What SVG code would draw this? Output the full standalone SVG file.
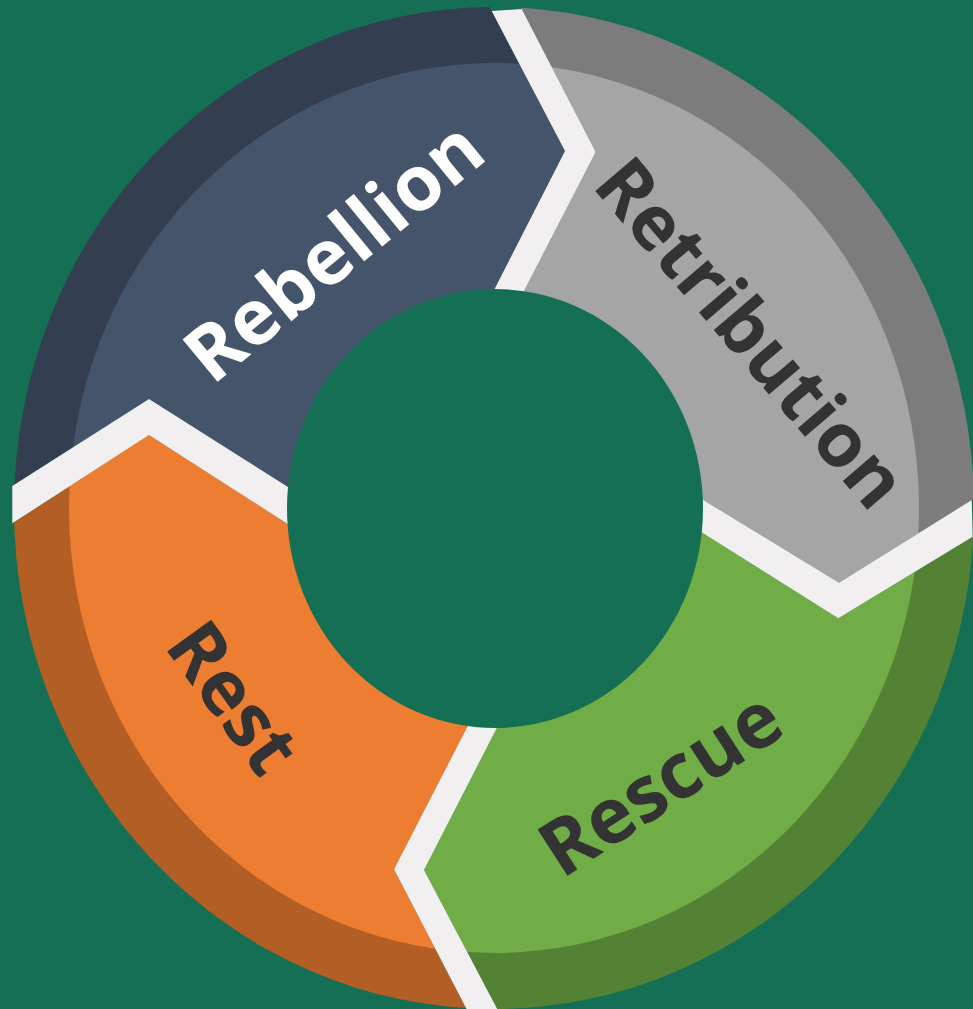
<svg xmlns="http://www.w3.org/2000/svg" xmlns:xlink="http://www.w3.org/1999/xlink" width="973" height="1009" viewBox="0 0 973 1009">
<style>
.lbl{font-family:"Open Sans","DejaVu Sans",sans-serif;font-weight:700;font-size:75px;text-anchor:middle}
.dark{fill:#333333}
.light{fill:#ffffff}
.sep{fill:#F1EFF0}
</style>
<defs>
<clipPath id="outerClip"><ellipse cx="494" cy="508" rx="480" ry="501"/></clipPath>
<clipPath id="lightClip"><ellipse cx="494" cy="508" rx="425" ry="445"/></clipPath>
<polygon id="pRebellion" points="465,-40 565,151 486.2,305.4 494,508 301,495.3 149,399 12.3,486 -40,519 -40,-40"/>
<polygon id="pRetribution" points="496.3,-40 595.7,152 516.1,306.3 494,508 690.5,492.2 839,582.7 971.7,500 1020,470 1020,-40"/>
<polygon id="pRescue" points="1020,508 972.7,536.7 838.3,618.3 690,525 494,508 503.5,715 424,870 496.7,1008 518.8,1050 1020,1050"/>
<polygon id="pRest" points="487.8,1050 466,1008 394,869.3 474.2,713.4 494,508 299.3,531.4 149,435 12.3,523.3 -40,557 -40,1050"/>
</defs>
<rect x="0" y="0" width="973" height="1009" fill="#156F54"/>
<g id="rebellion">
<use xlink:href="#pRebellion" href="#pRebellion" fill="#333F50" clip-path="url(#outerClip)"/>
<use xlink:href="#pRebellion" href="#pRebellion" fill="#44546A" clip-path="url(#lightClip)"/>
<text class="lbl light" style="font-size:77px" transform="translate(351,272) rotate(-39.5)">Rebellion</text>
</g>
<g id="retribution">
<use xlink:href="#pRetribution" href="#pRetribution" fill="#7C7C7C" clip-path="url(#outerClip)"/>
<use xlink:href="#pRetribution" href="#pRetribution" fill="#A5A5A5" clip-path="url(#lightClip)"/>
<text class="lbl dark" transform="translate(731,350) rotate(49.5)">Retribution</text>
</g>
<g id="rescue">
<use xlink:href="#pRescue" href="#pRescue" fill="#548235" clip-path="url(#outerClip)"/>
<use xlink:href="#pRescue" href="#pRescue" fill="#70AD47" clip-path="url(#lightClip)"/>
<text class="lbl dark" style="font-size:77px" transform="translate(675,806) rotate(-33)">Rescue</text>
</g>
<g id="rest">
<use xlink:href="#pRest" href="#pRest" fill="#B35E24" clip-path="url(#outerClip)"/>
<use xlink:href="#pRest" href="#pRest" fill="#ED7D31" clip-path="url(#lightClip)"/>
<text class="lbl dark" style="font-size:76px" transform="translate(212,713) rotate(54)">Rest</text>
</g>
<g id="connectors">
<polygon class="sep" points="491.7,11 565,151 486.2,305.4 516.1,306.3 595.7,152 521.7,9"/>
<polygon class="sep" points="971.7,500 839,582.7 690.5,492.2 690,525 838.3,618.3 972.7,536.7"/>
<polygon class="sep" points="498.8,1012 424,870 503.5,715 474.2,713.4 394,869.3 468.1,1012"/>
<polygon class="sep" points="12.3,486 149,399 301,495.3 299.3,531.4 149,435 12.3,523.3"/>
</g>
<ellipse id="hub" cx="495" cy="508.5" rx="208" ry="219.5" fill="#156F54"/>
</svg>
